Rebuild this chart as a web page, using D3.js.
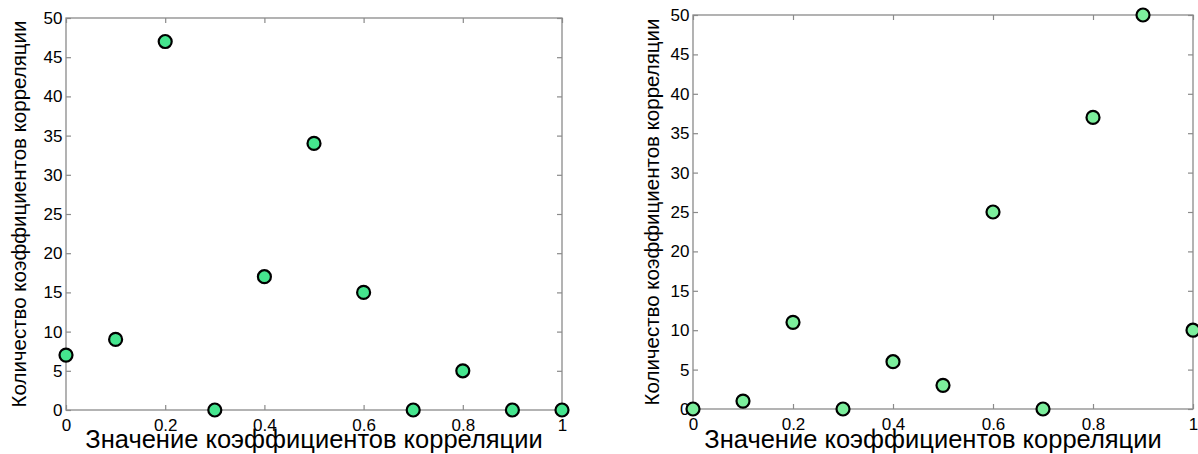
<!DOCTYPE html>
<html><head><meta charset="utf-8">
<script src="https://cdn.jsdelivr.net/npm/d3@7"></script>
<style>body{margin:0;background:#fff;} svg{display:block;}</style>
</head><body>
<svg id="c" width="1198" height="454"></svg>
<script>
const xValues = [0,0.1,0.2,0.3,0.4,0.5,0.6,0.7,0.8,0.9,1];
const leftCounts = [7,9,47,0,17,34,15,0,5,0,0];
const rightCounts = [0,1,11,0,6,3,25,0,37,50,10];
const xTicks = [0,0.2,0.4,0.6,0.8,1];
const yTicks = [0,5,10,15,20,25,30,35,40,45,50];
const xTitle = "Значение коэффициентов корреляции";
const yTitle = "Количество коэффициентов корреляции";

const svg = d3.select("#c");
const font = "Liberation Sans, Arial, sans-serif";

function panel(p){
  const x = d3.scaleLinear().domain([0,1]).range([p.x0,p.x1]);
  const y = d3.scaleLinear().domain([0,50]).range([p.y0,p.y1]);
  const g = svg.append("g");
  const axColor = "#8a8a8a";
  const bx = g.append("g").attr("transform",`translate(0,${p.y0})`)
    .call(d3.axisBottom(x).tickValues(xTicks).tickSize(-5).tickPadding(9).tickFormat(d=>d3.format("")(d)));
  const lx = g.append("g").attr("transform",`translate(${p.x0},0)`)
    .call(d3.axisLeft(y).tickValues(yTicks).tickSize(-5).tickPadding(3.5));
  const tx = g.append("g").attr("transform",`translate(0,${p.y1})`)
    .call(d3.axisTop(x).tickValues(xTicks).tickSize(-5).tickFormat(""));
  const rx = g.append("g").attr("transform",`translate(${p.x1},0)`)
    .call(d3.axisRight(y).tickValues(yTicks).tickSize(-5).tickFormat(""));
  [bx,lx,tx,rx].forEach(a=>{
    a.selectAll(".tick line").attr("stroke",axColor).attr("stroke-width",1.2);
    a.selectAll("text").attr("fill","#000").style("font-family",font).style("font-size","17px");
  });
  g.selectAll(".domain").remove();
  g.append("rect").attr("x",p.x0).attr("y",p.y1).attr("width",p.x1-p.x0).attr("height",p.y0-p.y1)
    .attr("fill","none").attr("stroke",axColor).attr("stroke-width",1.3);
  lx.selectAll("text").attr("dy","0.32em");
  g.append("text").attr("x",(p.x0+p.x1)/2 + p.xtOff).attr("y",448)
    .attr("text-anchor","middle").style("font-family",font).style("font-size","25.5px").text(xTitle);
  g.append("text").attr("transform",`translate(${p.ytx},${(p.y0+p.y1)/2}) rotate(-90)`)
    .attr("text-anchor","middle").style("font-family",font).style("font-size","20.5px").text(yTitle);
  g.selectAll("circle.pt").data(p.vals).enter().append("circle").attr("class","pt")
    .attr("cx",(d,i)=>x(xValues[i])).attr("cy",d=>y(d)).attr("r",6.5)
    .attr("fill",p.fill).attr("stroke","#000").attr("stroke-width",2.2);
}
panel({x0:66,x1:562,y0:410,y1:18,vals:leftCounts,fill:"#45e58e",ytx:26,xtOff:0});
panel({x0:693,x1:1193,y0:409,y1:15,vals:rightCounts,fill:"#7cee9c",ytx:659,xtOff:-10});
</script>
</body></html>
